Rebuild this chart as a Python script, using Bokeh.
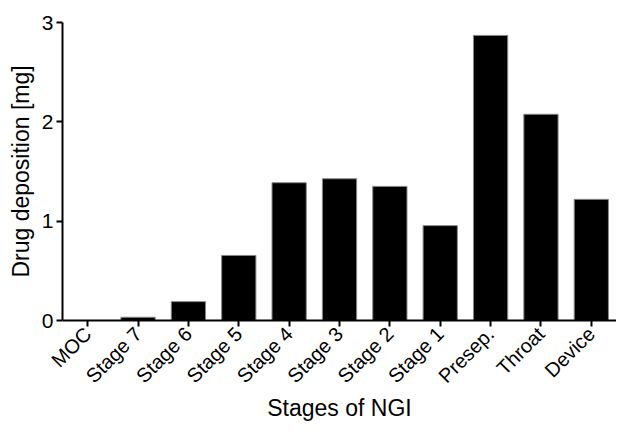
import math
from bokeh.plotting import figure
from bokeh.models import FactorRange, Range1d, FixedTicker, ColumnDataSource
from bokeh.embed import file_html
from bokeh.resources import INLINE

stages = ["MOC", "Stage 7", "Stage 6", "Stage 5", "Stage 4", "Stage 3",
          "Stage 2", "Stage 1", "Presep.", "Throat", "Device"]
deposition = [0.0, 0.033, 0.19, 0.655, 1.387, 1.427, 1.35, 0.955, 2.87, 2.076, 1.22]
y_ticks = [0, 1, 2, 3]
x_title = "Stages of NGI"
y_title = "Drug deposition [mg]"

src = ColumnDataSource(dict(x=stages, top=deposition))

p = figure(width=616, height=423, output_backend="svg", toolbar_location=None,
           x_range=FactorRange(*stages, range_padding=0), y_range=Range1d(0, 3),
           min_border_left=62, min_border_right=0, min_border_top=22, min_border_bottom=102)

p.vbar(x="x", top="top", bottom=0, width=0.68, source=src,
       fill_color="black", line_color="#888888", line_width=1)

p.outline_line_color = None
p.xgrid.grid_line_color = None
p.ygrid.grid_line_color = None

font = "Liberation Sans"
for ax in (p.xaxis[0], p.yaxis[0]):
    ax.axis_line_width = 2
    ax.axis_line_color = "black"
    ax.major_tick_line_width = 2
    ax.major_tick_line_color = "black"
    ax.major_tick_in = 0
    ax.major_tick_out = 6
    ax.minor_tick_line_color = None
    ax.major_label_text_font = font
    ax.major_label_text_color = "black"
    ax.axis_label_text_font = font
    ax.axis_label_text_font_style = "normal"
    ax.axis_label_text_color = "black"

p.yaxis.ticker = FixedTicker(ticks=y_ticks)
p.yaxis.major_label_text_font_size = "21px"
p.yaxis.major_label_standoff = 3
p.yaxis.axis_label = y_title
p.yaxis.axis_label_text_font_size = "23px"
p.yaxis.axis_label_standoff = 5

p.xaxis.major_label_orientation = math.pi / 4
p.xaxis.major_label_text_font_size = "20px"
p.xaxis.major_label_standoff = 4
p.xaxis.axis_label = x_title
p.xaxis.axis_label_text_font_size = "23px"
p.xaxis.axis_label_standoff = -3

open("out.html", "w").write(file_html(p, INLINE))
